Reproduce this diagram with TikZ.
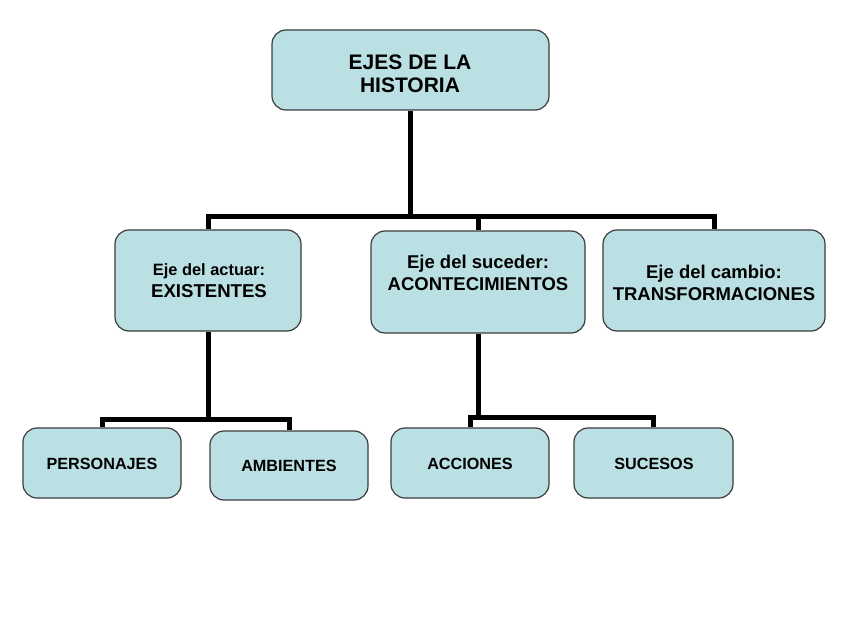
\documentclass[tikz,border=0pt]{standalone}
\usepackage{fontspec}
\setmainfont{Liberation Sans}
\definecolor{boxfill}{RGB}{187,224,227}
\definecolor{boxline}{RGB}{60,60,60}
\begin{document}
\begin{tikzpicture}[x=1pt,y=-1pt,
  box/.style={draw=boxline,line width=1.2pt,fill=boxfill,rounded corners=14pt,inner sep=0pt},
  conn/.style={line width=5pt,line join=miter,black},
  lbl/.style={align=center,font=\bfseries,inner sep=0pt}]
\useasboundingbox (0,0) rectangle (848,636);
\fill[white] (0,0) rectangle (848,636);
% boxes
\node[box,minimum width=277pt,minimum height=80pt] (top) at (410.5,70) {};
\node[box,minimum width=186pt,minimum height=101pt] (ex) at (208,280.5) {};
\node[box,minimum width=214pt,minimum height=102pt] (ac) at (478,282) {};
\node[box,minimum width=222pt,minimum height=101pt] (tr) at (714,280.5) {};
\node[box,minimum width=158pt,minimum height=70pt] (pers) at (102,463) {};
\node[box,minimum width=158pt,minimum height=69pt] (amb) at (289,465.5) {};
\node[box,minimum width=158pt,minimum height=70pt] (acc) at (470,463) {};
\node[box,minimum width=159pt,minimum height=70pt] (suc) at (653.5,463) {};
% labels
\node[lbl,font=\bfseries\fontsize{21}{23}\selectfont] (ttop) at (410,73.5) {EJES DE LA\\HISTORIA};
\node[lbl,font=\bfseries\fontsize{18.6}{22}\selectfont] (tex) at (209,281) {{\fontsize{16.4}{22}\selectfont Eje del actuar:}\\EXISTENTES};
\node[lbl,font=\bfseries\fontsize{18.5}{22}\selectfont] (tac) at (478,273) {Eje del suceder:\\ACONTECIMIENTOS};
\node[lbl,font=\bfseries\fontsize{18.5}{22}\selectfont] (ttr) at (714,283) {Eje del cambio:\\TRANSFORMACIONES};
\node[lbl,font=\bfseries\fontsize{16.2}{19}\selectfont] (tpers) at (102,464) {PERSONAJES};
\node[lbl,font=\bfseries\fontsize{16.2}{19}\selectfont] (tamb) at (289,466) {AMBIENTES};
\node[lbl,font=\bfseries\fontsize{16.2}{19}\selectfont] (tacc) at (470,464) {ACCIONES};
\node[lbl,font=\bfseries\fontsize{16.2}{19}\selectfont] (tsuc) at (654,464) {SUCESOS};
% hubs
\coordinate (hub) at (409,217);
\coordinate (exhub) at (208,419);
\coordinate (achub) at (478,417);
% connectors
\draw[conn] (top.south) -- (top.south |- hub);
\draw[conn] (ex.north) -- (ex.north |- hub) -- (tr.north |- hub) -- (tr.north);
\draw[conn] (ac.north) -- (ac.north |- hub);
\draw[conn] (ex.south) -- (ex.south |- exhub);
\draw[conn] (pers.north) -- (pers.north |- exhub) -- (amb.north |- exhub) -- (amb.north);
\draw[conn] (ac.south) -- (ac.south |- achub);
\draw[conn] (acc.north) -- (acc.north |- achub) -- (suc.north |- achub) -- (suc.north);
\end{tikzpicture}
\end{document}
